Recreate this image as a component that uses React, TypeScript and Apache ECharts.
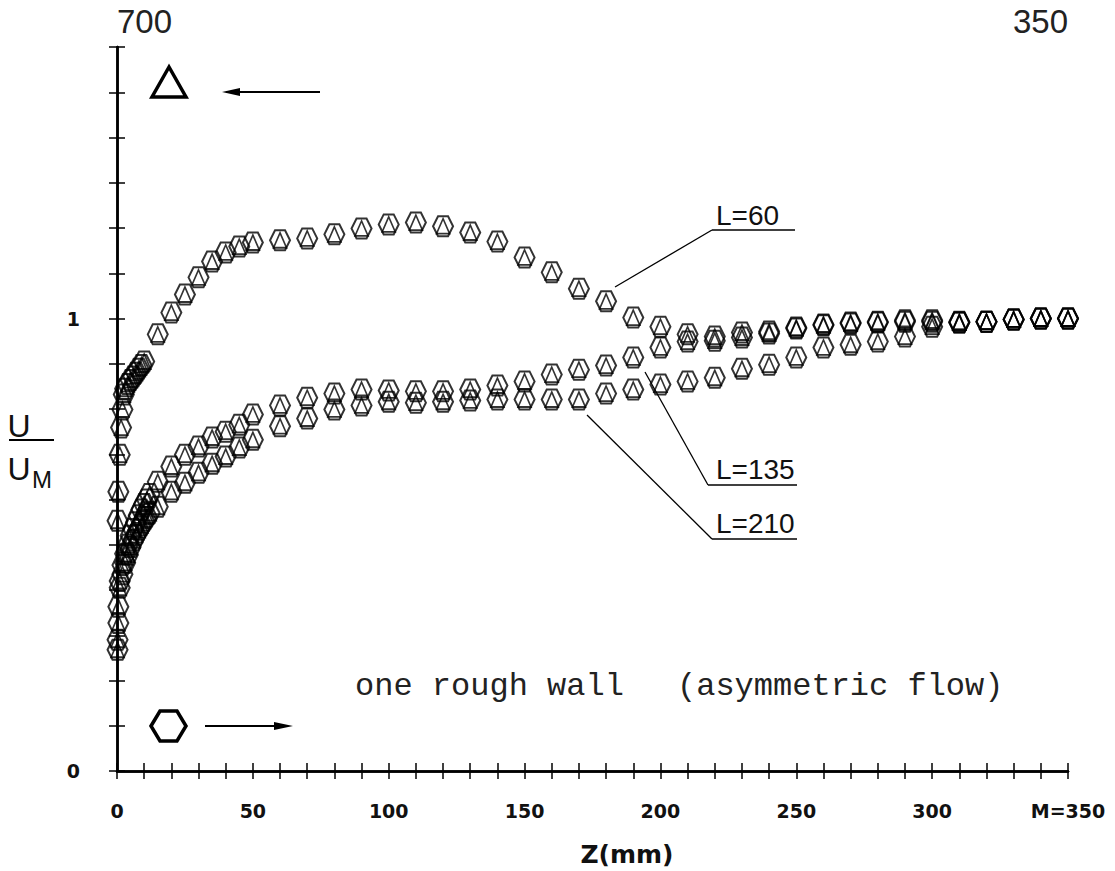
import React, { useEffect, useRef } from "react";
import * as echarts from "echarts";

// ---------- data ----------
// near-wall points (Z in mm)
const zNear60 = [0.2, 0.5, 1, 1.5, 2, 2.5, 3, 4, 5, 6, 7, 8, 9, 10];
const u60Near = [0.553, 0.617, 0.699, 0.759, 0.799, 0.832, 0.845, 0.855, 0.864, 0.872, 0.88, 0.889, 0.897, 0.905];

const zNear = [0.2, 0.5, 1, 2, 3, 4, 5, 6, 7, 8, 9, 10, 11, 12];
const u135Near = [0.29, 0.363, 0.42, 0.455, 0.48, 0.5, 0.52, 0.535, 0.55, 0.565, 0.578, 0.59, 0.6, 0.612];
const u210Near = [0.268, 0.327, 0.405, 0.435, 0.46, 0.478, 0.495, 0.51, 0.522, 0.533, 0.543, 0.553, 0.562, 0.57];

// main traverse points (Z in mm)
const zMain = [15, 20, 25, 30, 35, 40, 45, 50, 60, 70, 80, 90, 100, 110, 120, 130, 140, 150, 160, 170, 180, 190, 200,
  210, 220, 230, 240, 250, 260, 270, 280, 290, 300, 310, 320, 330, 340, 350];
const u60Main = [0.965, 1.013, 1.053, 1.091, 1.126, 1.146, 1.159, 1.168, 1.173, 1.177, 1.186, 1.199, 1.208, 1.212,
  1.204, 1.19, 1.17, 1.135, 1.102, 1.066, 1.038, 1.002, 0.982, 0.965, 0.96, 0.969, 0.971, 0.98, 0.987, 0.991, 0.993,
  0.996, 0.996, 0.993, 0.993, 0.998, 1.0, 1.0];
const u135Main = [0.639, 0.673, 0.699, 0.717, 0.737, 0.75, 0.765, 0.788, 0.808, 0.825, 0.834, 0.843, 0.841, 0.839,
  0.839, 0.843, 0.852, 0.861, 0.876, 0.887, 0.896, 0.914, 0.936, 0.949, 0.951, 0.958, 0.967, 0.978, 0.985, 0.989,
  0.991, 0.993, 0.993, 0.991, 0.993, 0.998, 1.0, 1.0];
const u210Main = [0.584, 0.617, 0.637, 0.659, 0.679, 0.695, 0.715, 0.732, 0.762, 0.779, 0.799, 0.808, 0.816, 0.814,
  0.816, 0.819, 0.821, 0.821, 0.821, 0.821, 0.834, 0.843, 0.854, 0.861, 0.869, 0.889, 0.898, 0.914, 0.936, 0.942,
  0.949, 0.96, 0.982, 0.991, 0.993, 0.998, 1.0, 1.0];

const curveLabels = ["L=60", "L=135", "L=210"];
const bottomTicks = [0, 50, 100, 150, 200, 250, 300, 350];
const topLabels = ["700", "350"];
const yLabels = [0, 1];

// ---------- helpers ----------
const zip = (zs: number[], us: number[]) => zs.map((z, i) => [z, us[i]]);

const HEX = "path://M0,8.66 L5,0 L15,0 L20,8.66 L15,17.32 L5,17.32 Z";

export default function App() {
  const ref = useRef<HTMLDivElement>(null);

  useEffect(() => {
    if (!ref.current) return;
    const chart = echarts.init(ref.current, undefined, { renderer: "svg" });

    const curves = [
      zip(zNear60, u60Near).concat(zip(zMain, u60Main)),
      zip(zNear, u135Near).concat(zip(zMain, u135Main)),
      zip(zNear, u210Near).concat(zip(zMain, u210Main)),
    ];

    const series: any[] = [];
    curves.forEach((data, i) => {
      series.push({
        type: "scatter",
        name: curveLabels[i] + " hexagon",
        data,
        symbol: HEX,
        symbolSize: [20, 20],
        clip: false,
        silent: true,
        itemStyle: { color: "rgba(0,0,0,0)", borderColor: "#000", borderWidth: 2 },
        emphasis: { disabled: true },
      });
      series.push({
        type: "scatter",
        name: curveLabels[i] + " triangle",
        data,
        symbol: "triangle",
        symbolSize: [13, 15],
        clip: false,
        silent: true,
        itemStyle: { color: "rgba(0,0,0,0)", borderColor: "#000", borderWidth: 1.7 },
        emphasis: { disabled: true },
      });
    });

    const axisLine = { show: true, lineStyle: { color: "#000", width: 2.5 } };
    const axisTick = { show: true, inside: true, length: 8, lineStyle: { color: "#000", width: 1.5 } };

    const txt = (text: string, x: number, y: number, font: string, align = "left", valign = "middle", fill = "#111") => ({
      type: "text",
      silent: true,
      style: {
        text, x, y, font, fill,
        align, verticalAlign: valign,
        textAlign: align, textVerticalAlign: valign,
      },
    });
    const ln = (x1: number, y1: number, x2: number, y2: number, w = 1.3) => ({
      type: "line",
      silent: true,
      shape: { x1, y1, x2, y2 },
      style: { stroke: "#000", lineWidth: w },
    });

    const labelFont = "28px 'Liberation Sans'";

    const graphic: any[] = [
      // legend triangle with leftward arrow
      {
        type: "polygon",
        silent: true,
        shape: { points: [[169, 67], [152, 97], [186, 97]] },
        style: { fill: "none", stroke: "#000", lineWidth: 3.5 },
      },
      ln(226, 92, 320, 92, 2),
      { type: "polygon", silent: true, shape: { points: [[222, 92], [240, 88], [240, 96]] }, style: { fill: "#000" } },
      // legend hexagon with rightward arrow
      {
        type: "polygon",
        silent: true,
        shape: { points: [[151, 726], [160, 711], [177, 711], [186, 726], [177, 741], [160, 741]] },
        style: { fill: "none", stroke: "#000", lineWidth: 3.5 },
      },
      ln(205, 726, 288, 726, 2),
      { type: "polygon", silent: true, shape: { points: [[293, 726], [274, 722], [274, 730]] }, style: { fill: "#000" } },
      // annotation
      txt("one rough wall", 355, 686, "32px 'Liberation Mono'", "left", "middle", "#222"),
      txt("(asymmetric flow)", 677, 686, "32px 'Liberation Mono'", "left", "middle", "#222"),
      // curve labels with leaders
      txt(curveLabels[0], 716, 229, labelFont, "left", "bottom", "#111"),
      ln(712, 230, 795, 230, 1.3),
      ln(712, 230, 615, 287, 1.3),
      txt(curveLabels[1], 716, 483, labelFont, "left", "bottom", "#111"),
      ln(708, 485, 797, 485, 1.3),
      ln(708, 485, 645, 372, 1.3),
      txt(curveLabels[2], 716, 537, labelFont, "left", "bottom", "#111"),
      ln(712, 539, 797, 539, 1.3),
      ln(712, 539, 587, 415, 1.3),
      // y axis name U / U_M
      txt("U", 19, 426, "32px 'Liberation Sans'", "center", "middle", "#111"),
      ln(9, 440, 54, 440, 2),
      txt("U", 19, 469, "32px 'Liberation Sans'", "center", "middle", "#111"),
      txt("M", 42, 479, "24px 'Liberation Sans'", "center", "middle", "#111"),
      // x axis name
      txt("Z(mm)", 627, 854, "bold 25px 'DejaVu Sans'", "center", "middle", "#111"),
    ];

    const tickLabelStyle = {
      fontSize: 19,
      fontWeight: "bold",
      fontFamily: "DejaVu Sans",
      color: "#111",
    };

    const option: any = {
      animation: false,
      backgroundColor: "#fff",
      grid: { left: 117, right: 47, top: 47, bottom: 100, containLabel: false },
      xAxis: [
        {
          type: "value",
          position: "bottom",
          min: 0,
          max: 350,
          interval: 10,
          axisLine,
          axisTick,
          splitLine: { show: false },
          axisLabel: {
            margin: 30,
            ...tickLabelStyle,
            formatter: (v: number) =>
              bottomTicks.includes(v) ? (v === 350 ? "M=350" : String(v)) : "",
          },
        },
        {
          type: "value",
          position: "top",
          min: 0,
          max: 350,
          interval: 10,
          axisLine,
          axisTick,
          splitLine: { show: false },
          axisLabel: {
            margin: 9,
            fontSize: 33,
            fontFamily: "Liberation Sans",
            color: "#222",
            alignMinLabel: "left",
            alignMaxLabel: "right",
            formatter: (v: number) => (v === 0 ? topLabels[0] : v === 350 ? topLabels[1] : ""),
          },
        },
      ],
      yAxis: [
        {
          type: "value",
          position: "left",
          min: 0,
          max: 1.6,
          interval: 0.1,
          axisLine,
          axisTick,
          splitLine: { show: false },
          axisLabel: {
            margin: 37,
            ...tickLabelStyle,
            formatter: (v: number) => {
              const hit = yLabels.find((t) => Math.abs(v - t) < 1e-6);
              return hit === undefined ? "" : String(hit);
            },
          },
        },
        {
          type: "value",
          position: "right",
          min: 0,
          max: 1.6,
          interval: 0.1,
          axisLine,
          axisTick,
          splitLine: { show: false },
          axisLabel: { show: false },
        },
      ],
      series,
      graphic,
    };

    chart.setOption(option);
    return () => chart.dispose();
  }, []);

  return (
    <div
      ref={ref}
      style={{ position: "fixed", left: 0, top: 0, width: 1115, height: 871, background: "#fff" }}
    />
  );
}
